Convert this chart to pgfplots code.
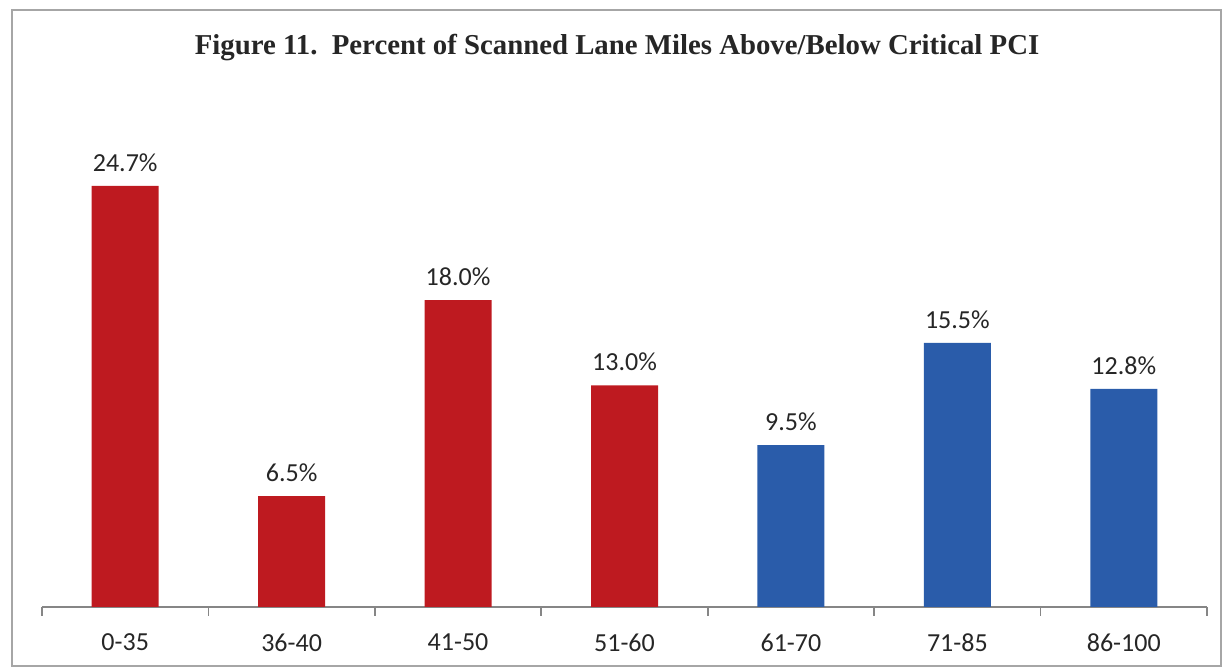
\documentclass[border=0pt]{standalone}
\usepackage{pgfplots}
\pgfplotsset{compat=1.18}
\usepackage{fontspec}
\setmainfont{Carlito}
\newfontfamily\titlefont{Liberation Serif}
\definecolor{barred}{RGB}{190,26,32}
\definecolor{barblue}{RGB}{42,92,170}
\definecolor{axgray}{RGB}{134,134,134}
\begin{document}
\begin{tikzpicture}
\path (-21pt,-30pt) rectangle (590pt,303.5pt);
\draw[color=gray!70, line width=0.8pt] (-15pt,-29.5pt) rectangle (589.5pt,298.5pt);
\node[font=\titlefont\bfseries\fontsize{14.4}{17}\selectfont, text=black!85] at (287.5pt,279.5pt) {Figure 11.\ \ Percent of Scanned Lane Miles Above/Below Critical PCI};
\begin{axis}[
  at={(0,0)}, anchor=south west,
  scale only axis,
  width=582.5pt, height=210.5pt,
  xmin=-0.5, xmax=6.5, ymin=0, ymax=24.7,
  axis x line*=bottom, axis y line=none,
  axis line style={color=axgray, line width=0.8pt},
  x axis line style={-},
  xtick={0,...,6},
  xticklabels={0-35,36-40,41-50,51-60,61-70,71-85,86-100},
  major tick length=0pt,
  minor xtick={-0.5,0.5,...,6.5},
  minor tick length=4.5pt,
  tick align=outside,
  minor tick style={color=axgray, line width=0.8pt},
  ticklabel style={font=\fontsize{13}{15}\selectfont, text=black!85},
  xticklabel style={yshift=-10pt},
  /pgf/number format/assume math mode=true,
  ybar, bar width=33.5pt,
  clip=false,
  nodes near coords={\pgfmathprintnumber[fixed,fixed zerofill,precision=1,assume math mode=true]{\pgfplotspointmeta}\%},
  nodes near coords style={font=\fontsize{13}{15}\selectfont, text=black!85, inner sep=0pt, anchor=south, yshift=7pt},
]
\addplot[fill=barred, draw=none, bar shift=0pt] coordinates {(0,24.7) (1,6.5) (2,18.0) (3,13.0)};
\addplot[fill=barblue, draw=none, bar shift=0pt] coordinates {(4,9.5) (5,15.5) (6,12.8)};
\end{axis}
\end{tikzpicture}
\end{document}
